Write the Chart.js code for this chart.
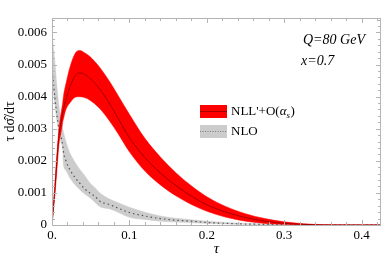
<!DOCTYPE html>
<html lang="en">
<head>
<meta charset="UTF-8">
<title>tau distribution</title>
<script src="https://cdn.jsdelivr.net/npm/chart.js"></script>
<style>
  html, body { margin: 0; padding: 0; background: #fff; }
  #wrap { width: 390px; height: 261px; }
</style>
</head>
<body>
<div id="wrap"><canvas id="tau"></canvas></div>
<script>
const tau = [0, 0.002, 0.004, 0.006, 0.009, 0.0125, 0.0138, 0.0147, 0.018, 0.023, 0.03, 0.036, 0.042, 0.049, 0.055, 0.062,
  0.075, 0.085, 0.1, 0.12, 0.14, 0.16, 0.18, 0.2, 0.225, 0.25, 0.275, 0.3, 0.325, 0.35, 0.4, 0.425];

// NLL'+O(alpha_s) band
const nllUpper = [0, 0.0007, 0.0014, 0.0021, 0.003, 0.0036, 0.0038, 0.004, 0.0044, 0.0049, 0.00535, 0.00544, 0.00537, 0.00525, 0.0051, 0.0049,
  0.00445, 0.00405, 0.00345, 0.0027, 0.00212, 0.00163, 0.00122, 0.00088, 0.00057, 0.00035, 0.0002, 0.0001, 0.00004, 0.00001, 0, 0];
const nllCentral = [0, 0.0006, 0.0012, 0.0019, 0.0028, 0.0033, 0.0035, 0.0036, 0.0039, 0.0043, 0.00465, 0.00474, 0.0047, 0.00457, 0.00443, 0.00422,
  0.00376, 0.00334, 0.00272, 0.0021, 0.00162, 0.00123, 0.0009, 0.00063, 0.0004, 0.00023, 0.00012, 0.00005, 0.00002, 0, 0, 0];
const nllLower = [0, 0.0005, 0.001, 0.0016, 0.0025, 0.003, 0.0032, 0.0033, 0.0036, 0.0038, 0.00398, 0.004, 0.00397, 0.00389, 0.00378, 0.00362,
  0.00322, 0.00286, 0.00228, 0.00168, 0.00125, 0.00091, 0.00064, 0.00043, 0.00024, 0.00012, 0.00005, 0.00002, 0, 0, 0, 0];

// NLO band
const nloUpper = [0.006, 0.0055, 0.005, 0.0044, 0.0037, 0.0032, 0.003, 0.0029, 0.0026, 0.00225, 0.00195, 0.00173, 0.00155, 0.00131, 0.00118, 0.001,
  0.0008, 0.0007, 0.00055, 0.0004, 0.00028, 0.00021, 0.00016, 0.00012, 0.00008, 0.00005, 0.00003, 0.00002, 0.00001, 0, 0, 0];
const nloCentral = [0.0048, 0.0044, 0.0039, 0.0035, 0.003, 0.00266, 0.0025, 0.0023, 0.002, 0.00173, 0.00147, 0.0013, 0.00113, 0.001, 0.0009, 0.00074,
  0.00063, 0.00053, 0.00039, 0.00028, 0.0002, 0.00015, 0.00012, 0.00008, 0.00005, 0.00003, 0.00002, 0.00001, 0, 0, 0, 0];
const nloLower = [0.0044, 0.0041, 0.0037, 0.0033, 0.0029, 0.0025, 0.0024, 0.0019, 0.0017, 0.00147, 0.00125, 0.0011, 0.00097, 0.00085, 0.00072, 0.00057,
  0.0005, 0.0004, 0.00024, 0.00017, 0.00012, 0.00009, 0.00007, 0.00005, 0.00003, 0.00002, 0.00001, 0, 0, 0, 0, 0];

const xTicks = [0, 0.1, 0.2, 0.3, 0.4];
const yTicks = [0, 0.001, 0.002, 0.003, 0.004, 0.005, 0.006];

const SERIF = '"Liberation Serif", "DejaVu Serif", serif';
const pts = arr => arr.map((v, i) => ({ x: tau[i], y: v }));

// Mathematica-like frame with inward ticks on all four sides
const framePlugin = {
  id: 'frame',
  afterDatasetsDraw(chart) {
    const { ctx, chartArea: a, scales: { x, y } } = chart;
    ctx.save();
    ctx.strokeStyle = '#b4b4b4';
    ctx.lineWidth = 1;
    ctx.strokeRect(a.left + 0.5, a.top + 0.5, a.right - a.left - 1, a.bottom - a.top);
    ctx.beginPath();
    for (let i = 0; i <= 21; i++) {
      const v = i * 0.02;
      const px = Math.round(x.getPixelForValue(v)) + 0.5;
      const len = i % 5 === 0 ? 5 : 3;
      ctx.moveTo(px, a.bottom); ctx.lineTo(px, a.bottom - len);
      ctx.moveTo(px, a.top); ctx.lineTo(px, a.top + len);
    }
    for (let i = 0; i <= 32; i++) {
      const v = i * 0.0002;
      const py = Math.round(y.getPixelForValue(v)) + 0.5;
      const len = i % 5 === 0 ? 5 : 3;
      ctx.moveTo(a.left, py); ctx.lineTo(a.left + len, py);
      ctx.moveTo(a.right, py); ctx.lineTo(a.right - len, py);
    }
    ctx.stroke();
    ctx.restore();
  }
};

// legend and the Q / x note inside the plot
const notePlugin = {
  id: 'notes',
  afterDraw(chart) {
    const { ctx } = chart;
    ctx.save();
    ctx.fillStyle = '#000';
    ctx.textBaseline = 'middle';
    ctx.font = 'italic 14px ' + SERIF;
    ctx.fillText('Q=80 GeV', 303, 40);
    ctx.fillText('x=0.7', 301, 61);

    // red swatch
    ctx.fillStyle = '#ff0000';
    ctx.fillRect(200, 105, 27, 13);
    ctx.strokeStyle = '#8b0000';
    ctx.lineWidth = 0.8;
    ctx.beginPath(); ctx.moveTo(200, 111.5); ctx.lineTo(227, 111.5); ctx.stroke();
    // gray swatch
    ctx.fillStyle = '#cccccc';
    ctx.fillRect(200, 125, 27, 13);
    ctx.strokeStyle = '#666';
    ctx.setLineDash([1, 1.5]);
    ctx.beginPath(); ctx.moveTo(200, 131.5); ctx.lineTo(227, 131.5); ctx.stroke();
    ctx.setLineDash([]);

    ctx.fillStyle = '#000';
    let tx = 231;
    ctx.font = '13px ' + SERIF;
    ctx.fillText("NLL'+O(", tx, 112);
    tx += ctx.measureText("NLL'+O(").width;
    ctx.font = 'italic 13px ' + SERIF;
    ctx.fillText('α', tx, 112);
    tx += ctx.measureText('α').width;
    ctx.font = 'italic 9px ' + SERIF;
    ctx.fillText('s', tx, 116);
    tx += ctx.measureText('s').width + 0.5;
    ctx.font = '13px ' + SERIF;
    ctx.fillText(')', tx, 112);
    ctx.fillText('NLO', 231, 131.5);
    ctx.restore();
  }
};

new Chart(document.getElementById('tau'), {
  type: 'line',
  data: {
    datasets: [
      { label: "NLL'+O(αs) central", data: pts(nllCentral), borderColor: '#8b0000', borderWidth: 0.8, pointRadius: 0, fill: false, order: 0 },
      { label: "NLL'+O(αs) upper", data: pts(nllUpper), borderColor: '#ff0000', borderWidth: 0.5, pointRadius: 0, fill: '+1', backgroundColor: '#ff0000', order: 1 },
      { label: "NLL'+O(αs) lower", data: pts(nllLower), borderColor: '#ff0000', borderWidth: 0.5, pointRadius: 0, fill: false, order: 2 },
      { label: 'NLO central', data: pts(nloCentral), borderColor: '#555', borderWidth: 1.2, borderDash: [1.5, 3], pointRadius: 0, fill: false, order: 3 },
      { label: 'NLO upper', data: pts(nloUpper), borderColor: '#cccccc', borderWidth: 0.5, pointRadius: 0, fill: '+1', backgroundColor: '#cccccc', order: 4 },
      { label: 'NLO lower', data: pts(nloLower), borderColor: '#cccccc', borderWidth: 0.5, pointRadius: 0, fill: false, order: 5 }
    ]
  },
  options: {
    responsive: true,
    maintainAspectRatio: false,
    animation: false,
    events: [],
    cubicInterpolationMode: 'monotone',
    layout: { padding: { top: 18, right: 9, left: 0, bottom: 0 } },
    plugins: { legend: { display: false }, tooltip: { enabled: false } },
    scales: {
      x: {
        type: 'linear',
        min: 0,
        max: 0.425,
        grid: { display: false, drawTicks: false },
        border: { display: false },
        afterBuildTicks: s => { s.ticks = xTicks.map(v => ({ value: v })); },
        afterFit: s => { s.height = 36; },
        ticks: {
          color: '#000',
          padding: 3,
          maxRotation: 0,
          font: { family: SERIF, size: 13 },
          callback: v => (v === 0 ? '0.' : v.toFixed(1))
        },
        title: { display: true, text: 'τ', color: '#000', font: { family: SERIF, size: 15, style: 'italic' }, padding: { top: 0, bottom: 3 } }
      },
      y: {
        min: 0,
        max: 0.00645,
        grid: { display: false, drawTicks: false },
        border: { display: false },
        afterBuildTicks: s => { s.ticks = yTicks.map(v => ({ value: v })); },
        afterFit: s => { s.width = 52; },
        ticks: {
          color: '#000',
          padding: 5,
          font: { family: SERIF, size: 13 },
          callback: v => (v === 0 ? '0' : v.toFixed(3))
        },
        title: { display: true, text: 'τ dσ̂/dτ', color: '#000', font: { family: SERIF, size: 14 }, padding: { top: 2, bottom: 0 } }
      }
    }
  },
  plugins: [framePlugin, notePlugin]
});
</script>
</body>
</html>
